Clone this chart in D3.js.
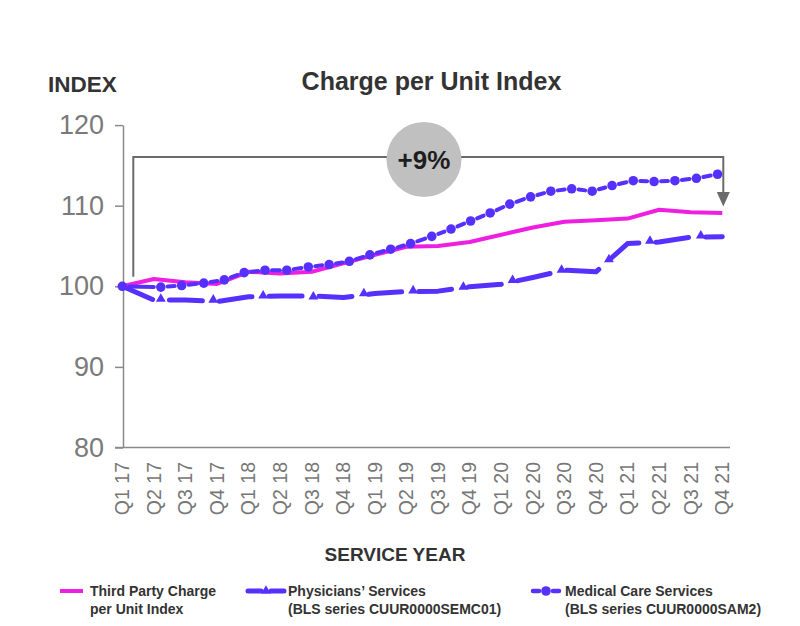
<!DOCTYPE html>
<html><head><meta charset="utf-8">
<script src="https://cdn.jsdelivr.net/npm/d3@7"></script>
<style>body{margin:0;background:#fff}svg{display:block}text{font-family:"Liberation Sans",Arial,Helvetica,sans-serif}</style>
</head><body><svg id="c" width="800" height="626"></svg>
<script>
const quarters = ["Q1 17","Q2 17","Q3 17","Q4 17","Q1 18","Q2 18","Q3 18","Q4 18","Q1 19","Q2 19","Q3 19","Q4 19","Q1 20","Q2 20","Q3 20","Q4 20","Q1 21","Q2 21","Q3 21","Q4 21"];
const thirdParty = [100,100.9,100.5,100.3,101.8,101.6,101.8,102.85,103.9,104.9,105.0,105.5,106.4,107.3,108.0,108.2,108.4,109.5,109.2,109.1];
const physicians = [100,98.3,98.3,98.1,98.7,98.8,98.8,98.6,99.1,99.35,99.4,99.95,100.25,101.1,102.0,101.8,105.3,105.5,106.1,106.15];
const physMarkerPos = [1.22,2.88,4.46,6.05,7.65,9.21,10.80,12.36,13.91,15.41,16.71,18.32];
const physMarkerVal = [98.3,98.2,98.7,98.6,99.0,99.35,99.8,100.65,101.9,103.2,105.5,106.15];
const medicalPos = [0,1.22,1.88,2.58,3.23,3.86,4.52,5.21,5.89,6.55,7.19,7.84,8.50,9.13,9.80,10.41,11.03,11.65,12.27,12.93,13.57,14.23,14.88,15.51,16.18,16.84,17.50,18.18,18.85];
const medical = [100.0,99.9,100.1,100.4,100.8,101.7,102.0,102.0,102.4,102.7,103.1,103.9,104.6,105.3,106.2,107.1,108.1,109.1,110.2,111.1,111.8,112.1,111.8,112.5,113.1,113.0,113.1,113.4,113.9];
const yTicks = [80,90,100,110,120];
const legendItems = [
  {lines:["Third Party Charge","per Unit Index"], type:"solid"},
  {lines:["Physicians\u2019 Services","(BLS series CUUR0000SEMC01)"], type:"tri"},
  {lines:["Medical Care Services","(BLS series CUUR0000SAM2)"], type:"dot"}
];
const changeLabel = "+9%";

const PINK = "#ee1fe0", BLUE = "#5530ff", AX = "#8a8a8a";
const svg = d3.select("#c");
const x = d3.scaleLinear().domain([0, quarters.length-1]).range([122.3, 722.3]);
const y = d3.scaleLinear().domain([80,120]).range([447.5,125.1]);

// titles
svg.append("text").attr("x",48).attr("y",92).attr("font-size",22.5).attr("font-weight","bold").attr("fill","#333").text("INDEX");
svg.append("text").attr("x",431.5).attr("y",90).attr("text-anchor","middle").attr("font-size",25).attr("font-weight","bold").attr("fill","#333").text("Charge per Unit Index");
svg.append("text").attr("x",395).attr("y",561).attr("text-anchor","middle").attr("font-size",19).attr("font-weight","bold").attr("fill","#333").text("SERVICE YEAR");

// y axis
const yAxis = d3.axisLeft(y).tickValues(yTicks).tickSize(8).tickPadding(11).tickSizeOuter(0);
const gy = svg.append("g").attr("transform","translate(123,0)").call(yAxis);
gy.select(".domain").attr("stroke",AX).attr("stroke-width",1.5);
gy.selectAll(".tick line").attr("stroke",AX).attr("stroke-width",1.5);
gy.selectAll(".tick text").attr("font-size",27).attr("fill","#7a7a7a").attr("font-family","Liberation Sans, Arial, sans-serif");

// x axis
svg.append("line").attr("x1",115).attr("x2",730).attr("y1",y(80)).attr("y2",y(80)).attr("stroke",AX).attr("stroke-width",1.5);
svg.append("g").selectAll("text").data(quarters).join("text")
  .attr("transform",(d,i)=>`translate(${x(i)},462) rotate(-90)`)
  .attr("text-anchor","end").attr("dy","0.35em")
  .attr("font-size",19.5).attr("fill","#777").text(d=>d);

// bracket annotation
const bx0 = x(0)+11, bx1 = x(quarters.length-1)+1, by = y(116.05);
svg.append("path").attr("d",`M${bx0},${y(101.2)}V${by}H${bx1}V${y(111.6)}`).attr("fill","none").attr("stroke","#6b6b6b").attr("stroke-width",2);
svg.append("path").attr("d",`M${bx1-6.5},${y(111.7)}L${bx1+6.5},${y(111.7)}L${bx1},${y(109.9)}Z`).attr("fill","#6b6b6b");
svg.append("circle").attr("cx",424).attr("cy",159.5).attr("r",37.5).attr("fill","#c0c0c0");
svg.append("text").attr("x",424).attr("y",168.5).attr("text-anchor","middle").attr("font-size",26).attr("font-weight","bold").attr("fill","#1e1e1e").text(changeLabel);

// series
const line = d3.line().x((d,i)=>x(i)).y(d=>y(d));
svg.append("path").datum(physicians).attr("d",line).attr("fill","none").attr("stroke",BLUE).attr("stroke-width",5)
  .attr("stroke-dasharray","33,17").attr("stroke-linecap","round").attr("stroke-linejoin","round");
const tri = d3.symbol().type(d3.symbolTriangle).size(42);
svg.append("g").selectAll("path").data(physMarkerPos).join("path")
  .attr("transform",(d,i)=>`translate(${x(d)},${y(physMarkerVal[i])-1})`).attr("d",tri).attr("fill",BLUE);

svg.append("path").datum(thirdParty).attr("d",line).attr("fill","none").attr("stroke",PINK).attr("stroke-width",4).attr("stroke-linejoin","round");

// medical: short dashes between dots
const mg = svg.append("g");
for(let i=0;i<medical.length-1;i++){
  const x1=x(medicalPos[i]), y1=y(medical[i]), x2=x(medicalPos[i+1]), y2=y(medical[i+1]);
  const L=Math.hypot(x2-x1,y2-y1), ux=(x2-x1)/L, uy=(y2-y1)/L, g=7;
  mg.append("line").attr("x1",x1+ux*g).attr("y1",y1+uy*g).attr("x2",x2-ux*g).attr("y2",y2-uy*g)
    .attr("stroke",BLUE).attr("stroke-width",4).attr("stroke-linecap","round");
}
mg.selectAll("circle").data(medical).join("circle").attr("cx",(d,i)=>x(medicalPos[i])).attr("cy",d=>y(d)).attr("r",4.8).attr("fill",BLUE);

// legend
const lx = [60, 246, 531], tx = [90, 288, 565];
legendItems.forEach((it,k)=>{
  const g = svg.append("g");
  const ly = 591;
  if(it.type==="solid"){
    g.append("line").attr("x1",lx[k]).attr("x2",lx[k]+23).attr("y1",ly).attr("y2",ly).attr("stroke",PINK).attr("stroke-width",4);
  } else if(it.type==="tri"){
    g.append("line").attr("x1",lx[k]+2).attr("x2",lx[k]+15).attr("y1",ly).attr("y2",ly).attr("stroke",BLUE).attr("stroke-width",5).attr("stroke-linecap","round");
    g.append("line").attr("x1",lx[k]+25).attr("x2",lx[k]+38).attr("y1",ly).attr("y2",ly).attr("stroke",BLUE).attr("stroke-width",5).attr("stroke-linecap","round");
    g.append("path").attr("transform",`translate(${lx[k]+20},${ly})`).attr("d",tri).attr("fill",BLUE);
  } else {
    g.append("line").attr("x1",lx[k]+2).attr("x2",lx[k]+8).attr("y1",ly).attr("y2",ly).attr("stroke",BLUE).attr("stroke-width",4.5).attr("stroke-linecap","round");
    g.append("line").attr("x1",lx[k]+22).attr("x2",lx[k]+28).attr("y1",ly).attr("y2",ly).attr("stroke",BLUE).attr("stroke-width",4.5).attr("stroke-linecap","round");
    g.append("circle").attr("cx",lx[k]+15).attr("cy",ly).attr("r",4.8).attr("fill",BLUE);
  }
  it.lines.forEach((t,j)=>{
    g.append("text").attr("x",tx[k]).attr("y",ly+5+j*18).attr("font-size",14).attr("font-weight","bold").attr("fill","#333").text(t);
  });
});
</script></body></html>
